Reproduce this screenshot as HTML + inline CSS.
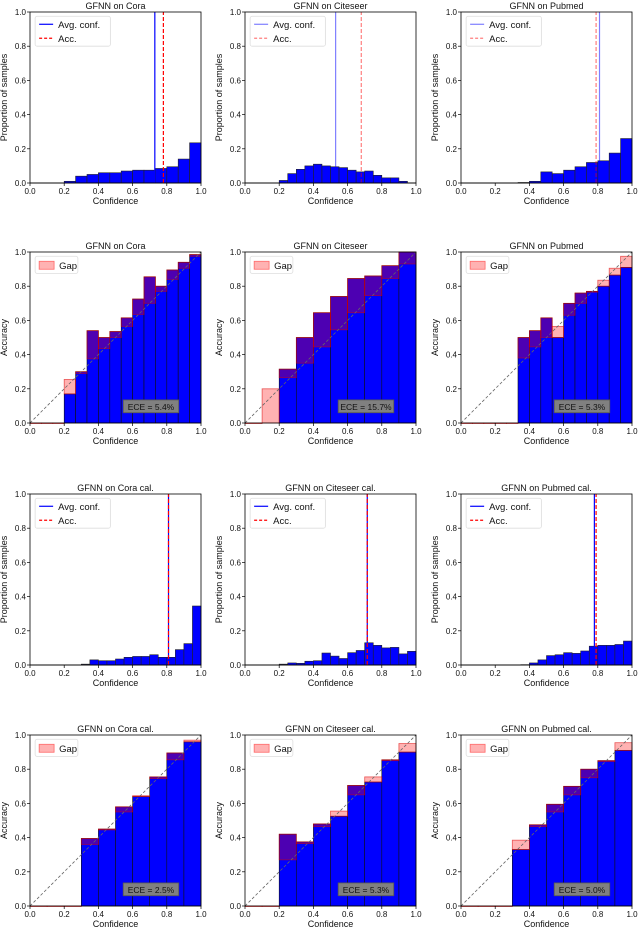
<!DOCTYPE html>
<html><head><meta charset="utf-8"><style>
body{margin:0;background:#fff}
svg{display:block;font-family:"Liberation Sans","DejaVu Sans",sans-serif}
</style></head><body>
<svg id="fig" width="640" height="929" viewBox="0 0 640 929" xmlns="http://www.w3.org/2000/svg"></svg>
<script>
// ---- data ----
const histCora = [0,0,0,0.01,0.04,0.05,0.06,0.06,0.07,0.075,0.075,0.085,0.095,0.14,0.235];
const histCiteseer = [0,0,0,0,0.015,0.055,0.08,0.10,0.11,0.10,0.095,0.09,0.075,0.065,0.07,0.045,0.03,0.03,0.01,0];
const histPubmed = [0,0,0,0,0,0.003,0.01,0.065,0.055,0.075,0.095,0.12,0.13,0.175,0.26];
const histCoraCal = [0,0,0,0,0,0,0.005,0.03,0.025,0.025,0.035,0.045,0.05,0.05,0.06,0.045,0.045,0.09,0.125,0.345];
const histCiteseerCal = [0,0,0,0,0.005,0.012,0.01,0.022,0.025,0.07,0.052,0.038,0.072,0.085,0.13,0.115,0.1,0.103,0.065,0.08];
const histPubmedCal = [0,0,0,0,0,0,0,0.002,0.012,0.03,0.055,0.06,0.072,0.068,0.082,0.11,0.115,0.115,0.12,0.14];
const avgConf = [0.73,0.53,0.81,0.81,0.715,0.78];
const accLine = [0.78,0.68,0.79,0.81,0.715,0.79];

const accCora = [0,0,0,0.17,0.30,0.54,0.50,0.535,0.615,0.725,0.855,0.80,0.895,0.94,0.985];
const confCora = [0,0,0,0.255,0.29,0.375,0.435,0.50,0.565,0.635,0.70,0.77,0.84,0.905,0.975];
const accCiteseer = [0,0,0.315,0.50,0.645,0.74,0.845,0.86,0.92,1.0];
const confCiteseer = [0,0.20,0.265,0.35,0.445,0.545,0.645,0.745,0.845,0.93];
const accPubmed = [0,0,0,0,0,0.50,0.54,0.615,0.50,0.70,0.76,0.77,0.80,0.865,0.91];
const confPubmed = [0,0,0,0,0,0.38,0.445,0.50,0.565,0.63,0.70,0.765,0.835,0.905,0.975];
const accCoraCal = [0,0,0,0.395,0.45,0.58,0.64,0.755,0.895,0.96];
const confCoraCal = [0,0,0,0.36,0.445,0.55,0.645,0.745,0.855,0.97];
const accCiteseerCal = [0,0,0.42,0.375,0.48,0.525,0.705,0.725,0.855,0.90];
const confCiteseerCal = [0,0,0.27,0.365,0.465,0.555,0.65,0.755,0.85,0.95];
const accPubmedCal = [0,0,0,0.33,0.475,0.595,0.70,0.80,0.85,0.91];
const confPubmedCal = [0,0,0,0.385,0.465,0.55,0.65,0.75,0.845,0.955];
const eceLabels = ["ECE = 5.4%","ECE = 15.7%","ECE = 5.3%","ECE = 2.5%","ECE = 5.3%","ECE = 5.0%"];
const titles = ["GFNN on Cora","GFNN on Citeseer","GFNN on Pubmed","GFNN on Cora cal.","GFNN on Citeseer cal.","GFNN on Pubmed cal."];
const tickLabels = ["0.0","0.2","0.4","0.6","0.8","1.0"];
const tickVals = [0,0.2,0.4,0.6,0.8,1.0];

// ---- layout ----
const colX = [30,245,461], W = 171, H = 171;
const rowY = [12,252,494,735];
const svg = document.getElementById('fig');
const NS = 'http://www.w3.org/2000/svg';
function mk(tag, attrs, parent, text){
  const e = document.createElementNS(NS, tag);
  for (const k in attrs) e.setAttribute(k, attrs[k]);
  if (text !== undefined) e.textContent = text;
  (parent||svg).appendChild(e); return e;
}

function axes(r, c, name){
  const g = mk('g', {});
  
  
  const x0 = colX[c], y0 = rowY[r];
  const sx = v => x0 + v*W, sy = v => y0 + H - v*H;
  return {g, x0, y0, sx, sy};
}
function frame(A, title, ylabel){
  const {g,x0,y0,sx,sy} = A;
  const fr = mk('rect',{x:x0,y:y0,width:W,height:H,fill:'none',stroke:'#000','stroke-width':0.8}, g);
   
  tickVals.forEach((v,i)=>{
    mk('line',{x1:sx(v),x2:sx(v),y1:y0+H,y2:y0+H+3,stroke:'#000','stroke-width':0.7}, g);
    const tx = mk('text',{x:sx(v),y:y0+H+11,'font-size':8,'text-anchor':'middle',fill:'#111'}, g, tickLabels[i]);
     
    mk('line',{x1:x0-3,x2:x0,y1:sy(v),y2:sy(v),stroke:'#000','stroke-width':0.7}, g);
    const ty = mk('text',{x:x0-4,y:sy(v)+3,'font-size':8,'text-anchor':'end',fill:'#111'}, g, tickLabels[i]);
     
  });
  const t = mk('text',{x:x0+W/2,y:y0-3,'font-size':9,'text-anchor':'middle',fill:'#111'}, g, title);
   
  const xl = mk('text',{x:x0+W/2,y:y0+H+21,'font-size':9,'text-anchor':'middle',fill:'#111'}, g, 'Confidence');
   
  const yx = x0-23, yy = y0+H/2;
  const yl = mk('text',{x:yx,y:yy,'font-size':9,'text-anchor':'middle',fill:'#111',transform:`rotate(-90 ${yx} ${yy})`}, g, ylabel);
   
}

function hist(r, c, data, conf, acc, title, light){
  const A = axes(r,c,'histogram-panel');
  const {g,sx,sy} = A; const n = data.length, bw = 1/n;
  data.forEach((v,i)=>{
    if (v<=0) return;
    const b = mk('rect',{x:sx(i*bw),y:sy(v),width:sx((i+1)*bw)-sx(i*bw),height:sy(0)-sy(v),fill:'#0000ff',stroke:'#222','stroke-width':0.6}, g);
     
  });
  mk('line',{x1:sx(0),x2:sx(1),y1:sy(0),y2:sy(0),stroke:'#333','stroke-width':1}, g);
  const op = light ? 0.5 : 1;
  const l1 = mk('line',{x1:sx(conf),x2:sx(conf),y1:sy(0),y2:sy(1),stroke:'#0000ff','stroke-width':1.2,opacity:op}, g);
   
  const l2 = mk('line',{x1:sx(acc),x2:sx(acc),y1:sy(0),y2:sy(1),stroke:'#ff0000','stroke-width':1.2,'stroke-dasharray':'4,2',opacity:op}, g);
   
  const lg = mk('g',{}, g);
   
  const lx = sx(0.03), ly = sy(0.975);
  mk('rect',{x:lx,y:ly,width:sx(0.47)-lx,height:sy(0.8)-ly,fill:'#fff',stroke:'#ddd','stroke-width':0.8,rx:2}, lg);
  mk('line',{x1:lx+4,x2:lx+18,y1:ly+8,y2:ly+8,stroke:'#0000ff','stroke-width':1.2,opacity:op}, lg);
  mk('text',{x:lx+23,y:ly+11.5,'font-size':9.5,fill:'#111'}, lg, 'Avg. conf.');
  mk('line',{x1:lx+4,x2:lx+18,y1:ly+22,y2:ly+22,stroke:'#ff0000','stroke-width':1.2,'stroke-dasharray':'3,2',opacity:op}, lg);
  mk('text',{x:lx+23,y:ly+25.5,'font-size':9.5,fill:'#111'}, lg, 'Acc.');
  frame(A, title, 'Proportion of samples');
}

function rel(r, c, acc, conf, title, ece){
  const A = axes(r,c,'reliability-panel');
  const {g,sx,sy} = A; const n = acc.length, bw = 1/n;
  acc.forEach((v,i)=>{
    if (v<=0) return;
    const b = mk('rect',{x:sx(i*bw),y:sy(v),width:sx((i+1)*bw)-sx(i*bw),height:sy(0)-sy(v),fill:'#0000ff',stroke:'#111','stroke-width':0.6}, g);
     
  });
  conf.forEach((v,i)=>{
    const lo = Math.min(v,acc[i]), hi = Math.max(v,acc[i]);
    const gp = mk('rect',{x:sx(i*bw),y:sy(hi),width:sx((i+1)*bw)-sx(i*bw),height:Math.max(sy(lo)-sy(hi),0.6),fill:'rgba(255,0,0,0.3)',stroke:'rgba(220,0,0,0.6)','stroke-width':0.8}, g);
     
  });
  const d = mk('line',{x1:sx(0),y1:sy(0),x2:sx(1),y2:sy(1),stroke:'#666','stroke-width':0.8,'stroke-dasharray':'3,2'}, g);
   
  const lg = mk('g',{}, g);
   
  const lx = sx(0.03), ly = sy(0.975);
  mk('rect',{x:lx,y:ly,width:sx(0.28)-lx,height:sy(0.875)-ly,fill:'#fff',stroke:'#ddd','stroke-width':0.8,rx:2}, lg);
  mk('rect',{x:lx+4,y:ly+5,width:15,height:8,fill:'rgba(255,0,0,0.3)',stroke:'rgba(255,0,0,0.5)','stroke-width':0.8}, lg);
  mk('text',{x:lx+24,y:ly+12.5,'font-size':9.5,fill:'#111'}, lg, 'Gap');
  const eb = mk('g',{}, g);
   
  const bx = sx(0.545), by = sy(0.135);
  mk('rect',{x:bx,y:by,width:sx(0.87)-bx,height:sy(0.06)-by,fill:'#808080',stroke:'#555','stroke-width':0.8}, eb);
  mk('text',{x:(bx+sx(0.87))/2,y:sy(0.075),'font-size':8.5,'text-anchor':'middle',fill:'#111'}, eb, ece);
  frame(A, title, 'Accuracy');
}

hist(0,0,histCora,avgConf[0],accLine[0],titles[0],false);
hist(0,1,histCiteseer,avgConf[1],accLine[1],titles[1],true);
hist(0,2,histPubmed,avgConf[2],accLine[2],titles[2],true);
rel(1,0,accCora,confCora,titles[0],eceLabels[0]);
rel(1,1,accCiteseer,confCiteseer,titles[1],eceLabels[1]);
rel(1,2,accPubmed,confPubmed,titles[2],eceLabels[2]);
hist(2,0,histCoraCal,avgConf[3],accLine[3],titles[3],false);
hist(2,1,histCiteseerCal,avgConf[4],accLine[4],titles[4],false);
hist(2,2,histPubmedCal,avgConf[5],accLine[5],titles[5],false);
rel(3,0,accCoraCal,confCoraCal,titles[3],eceLabels[3]);
rel(3,1,accCiteseerCal,confCiteseerCal,titles[4],eceLabels[4]);
rel(3,2,accPubmedCal,confPubmedCal,titles[5],eceLabels[5]);
</script>
</body></html>
